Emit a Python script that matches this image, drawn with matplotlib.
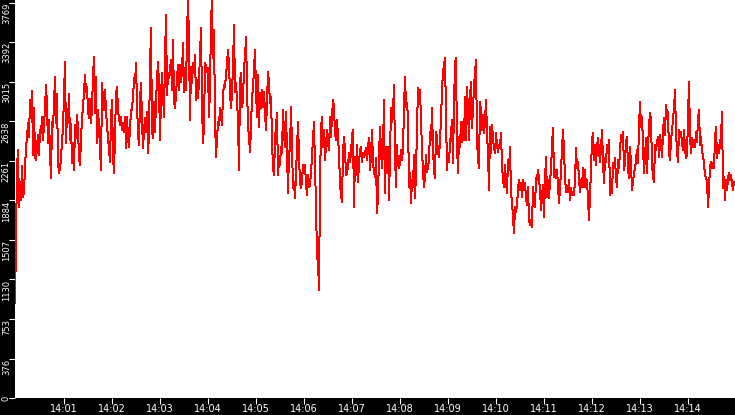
import numpy as np
import pandas as pd
import matplotlib
matplotlib.use("Agg")
import matplotlib.pyplot as plt
import matplotlib.dates as mdates

# one sample every 1.25 s starting 13:59:59
start_time = "2024-01-01 13:59:59"
sample_step = "1250ms"

seg_a = [905, 1506, 2205, 2363, 1823, 2062, 1887, 2214, 1919, 1966, 2205, 2379, 2490, 2617, 2490,
         2840, 2729, 2926, 2316, 2760, 2300, 2268, 2395, 2506, 2316, 2554, 2522, 2681, 2459, 2617,
         2760, 2983, 2776, 2427, 2649, 2348, 2093, 2633, 2586, 2792, 3062, 2617, 2894, 2252, 2141,
         2205, 2268, 2459, 2570, 2888, 3205, 2427, 2729, 2617, 2894, 2459, 2611, 2236, 2427, 2173,
         2602, 2475, 2697, 2570, 2284, 2220, 2475, 2665, 2776, 2919, 3078, 2919, 2967, 2745, 2665,
         2849, 2617, 2776, 3062, 3253, 2713, 3062, 2427, 2745, 2592, 2379, 2173, 2999, 2840, 2745,
         2935, 2745, 2586, 2490, 2363, 2252, 2649, 2840, 2316, 2141, 2522, 2888, 2967, 2745, 2665,
         2602, 2681, 2554, 2617, 2538, 2681, 2379, 2681, 2475, 2395, 2586, 2713, 2776, 2856, 3046,
         3000]
seg_b = [3189, 2808, 2522, 2411, 2840, 2999, 2649, 2379, 2554, 2665, 2538, 2729, 2332, 2522, 3142,
         3523, 2554, 2475, 2824, 2538, 2808, 3046, 3205, 2983, 2459, 2872, 3094, 2888, 2681, 3237,
         3650, 2888, 3094, 3046, 3126, 3221, 2935, 3412, 2840, 2760, 2888, 3046, 3173, 2935, 3173,
         3015, 3110, 3380, 2919, 3126, 2935, 3475, 3790, 3412, 2649, 3158, 2999, 3189, 3110, 3269,
         2840, 3031, 2856, 3031, 3269, 3523, 2808, 2427, 2602, 3189, 3158, 3110, 3142, 2681, 2951,
         3587, 3790, 3237, 3507, 2665, 2300, 2459, 2633, 2602, 2760, 2681, 2602, 2888, 2983, 2967,
         3078, 3189, 3316, 3173, 2919, 2760, 2903, 3173, 3555, 2919, 2999, 2840, 2633, 2173, 3015,
         3094, 2776, 2840, 3158, 3237, 3443, 2967, 2586, 2490, 2348, 2586, 2872, 2951, 3142, 3316]
seg_c = [2935, 2681, 3078, 2585, 2903, 2760, 2935, 2776, 2919, 2712, 2554, 2839, 3110, 2998, 2808,
         2871, 2458, 2188, 2125, 2458, 2601, 2712, 2125, 2268, 2220, 2395, 2331, 2744, 2522, 2395,
         2728, 2331, 1950, 2347, 2363, 2776, 2395, 1998, 2061, 1902, 2156, 2363, 2633, 2299, 2061,
         1998, 2077, 2220, 2140, 2220, 2045, 1934, 2125, 2013, 2029, 2156, 2299, 2458, 2633, 2188,
         1855, 1330, 1315, 1029, 2045, 2569, 2681, 2395, 2554, 2268, 2411, 2554, 2426, 2363, 2681,
         2490, 2681, 2839, 2776, 2522, 2458, 2649, 2490, 2331, 2045, 1934, 1870, 2347, 2490, 2363,
         2125, 2140, 2220, 2331, 2252, 2331, 2506, 2554, 1823, 2299, 2125, 2411, 2061, 2236, 2363,
         2395, 2252, 2331, 2299, 2331, 2379, 2268, 2395, 2474, 2172, 2315, 2554, 2236, 2156, 2109]
seg_d = [2284, 1760, 1935, 2300, 2586, 2364, 2189, 2364, 2840, 1951, 2395, 2141, 2395, 1887, 2332,
         2761, 2634, 2729, 2983, 2316, 2014, 2411, 2221, 2189, 2252, 2364, 2268, 2379, 2761, 3063,
         2777, 2808, 2665, 2014, 2141, 1855, 2078, 2014, 2316, 1903, 2141, 2586, 2951, 2904, 2935,
         2634, 2364, 2157, 2014, 2109, 2316, 2157, 2205, 2268, 2538, 2459, 2761, 2364, 2173, 2094,
         2538, 2475, 2348, 2300, 2459, 2650, 2935, 3110, 3174, 3237, 2697, 2173, 2332, 2252, 2427,
         2522, 2650, 2237, 2792, 3190, 3237, 2427, 2141, 2491, 2395, 2634, 2443, 2634, 2459, 2872,
         2459, 2967, 2745, 2459, 2856, 3015, 2570, 2777, 2967, 3094, 3221, 2459, 2284, 2189, 2824,
         2729, 2554, 2697, 2522, 2634, 2840, 2522, 2332, 1982, 2586, 2332, 2602, 2475, 2379, 2332]
seg_e = [2523, 2411, 2348, 2411, 2396, 2523, 2221, 2078, 2014, 2221, 2062, 1951, 2269, 2173, 2396,
         1951, 1871, 1728, 1570, 1824, 1776, 1840, 1983, 2078, 1983, 2046, 1919, 2078, 1983, 2046,
         1903, 1840, 2014, 1697, 1649, 1697, 1633, 2014, 1871, 1824, 2094, 2078, 2173, 2078, 1983,
         1792, 1919, 2030, 1728, 2078, 2300, 1919, 2078, 1903, 2062, 2173, 2411, 2570, 2110, 2173,
         2094, 2173, 2030, 1856, 2014, 2157, 2380, 2554, 2348, 2110, 1967, 2014, 1967, 2078, 1887,
         1998, 1935, 1967, 1935, 2078, 2380, 2189, 2253, 2078, 1967, 2078, 2014, 2189, 2014, 2173,
         2014, 2078, 1887, 1697, 1935, 2173, 2459, 2523, 2269, 2411, 2221, 2396, 2475, 2348, 2253,
         2380, 2554, 2253, 2046, 2284, 2253, 2411, 2348, 2459, 1935, 2046, 1951, 2237, 2189, 2284]
seg_f = [2093, 2014, 2268, 2189, 2364, 2506, 2491, 2538, 2173, 2236, 2443, 2491, 2189, 2093, 2395,
         2221, 1982, 2062, 2141, 2189, 2268, 2364, 2236, 2586, 2824, 2586, 2681, 2411, 2141, 2300,
         2475, 2141, 2395, 2586, 2713, 2649, 2221, 2109, 2062, 2411, 2364, 2443, 2491, 2300, 2506,
         2427, 2300, 2538, 2665, 2506, 2792, 2713, 2729, 2332, 2268, 2459, 2538, 2665, 2761, 2935,
         2538, 2348, 2252, 2554, 2491, 2538, 2427, 2364, 2554, 2379, 2284, 2316, 2665, 3015, 2506,
         2332, 2475, 2395, 2459, 2395, 2538, 2443, 2649, 2745, 2411, 2491, 2348, 2316, 2236, 2125,
         2093, 2078, 1823, 1998, 2205, 2252, 2189, 2236, 2189, 2475, 2586, 2284, 2411, 2332, 2427,
         2491, 2729, 1998, 2109, 1887, 2078, 1982, 2093, 2141, 2078, 2125, 2046, 1982, 2062, 2046]

y_ticks = [0, 376, 753, 1130, 1507, 1884, 2261, 2638, 3015, 3392, 3769]
y_top = 3793

values = np.array(seg_a + seg_b + seg_c + seg_d + seg_e + seg_f)
times = pd.date_range(start_time, periods=len(values), freq=sample_step)
x_ticks = pd.date_range("2024-01-01 14:01", "2024-01-01 14:14", freq="1min")

fig = plt.figure(figsize=(7.35, 4.15), dpi=100, facecolor="black")
ax = fig.add_axes([15 / 735, 17 / 415, 720 / 735, 398 / 415])
ax.set_facecolor("white")
ax.plot(times, values, color="red", lw=0.72, antialiased=False)

ax.set_xlim(times[0], times[-1])
ax.set_ylim(0, y_top)
ax.set_yticks(y_ticks)
ax.set_yticklabels([str(t) for t in y_ticks], rotation=90, va="top", fontsize=6)
ax.get_yticklabels()[0].set_va("center")
ax.set_xticks(x_ticks)
ax.xaxis.set_major_formatter(mdates.DateFormatter("%H:%M"))
for lbl in ax.get_xticklabels():
    lbl.set_fontsize(7)

ax.tick_params(axis="both", colors="white", length=4, width=0.8, direction="out")
ax.tick_params(axis="y", pad=-1)
ax.tick_params(axis="x", pad=0.5)
for s in ax.spines.values():
    s.set_visible(False)

fig.savefig("out.png", dpi=100, facecolor="black")
